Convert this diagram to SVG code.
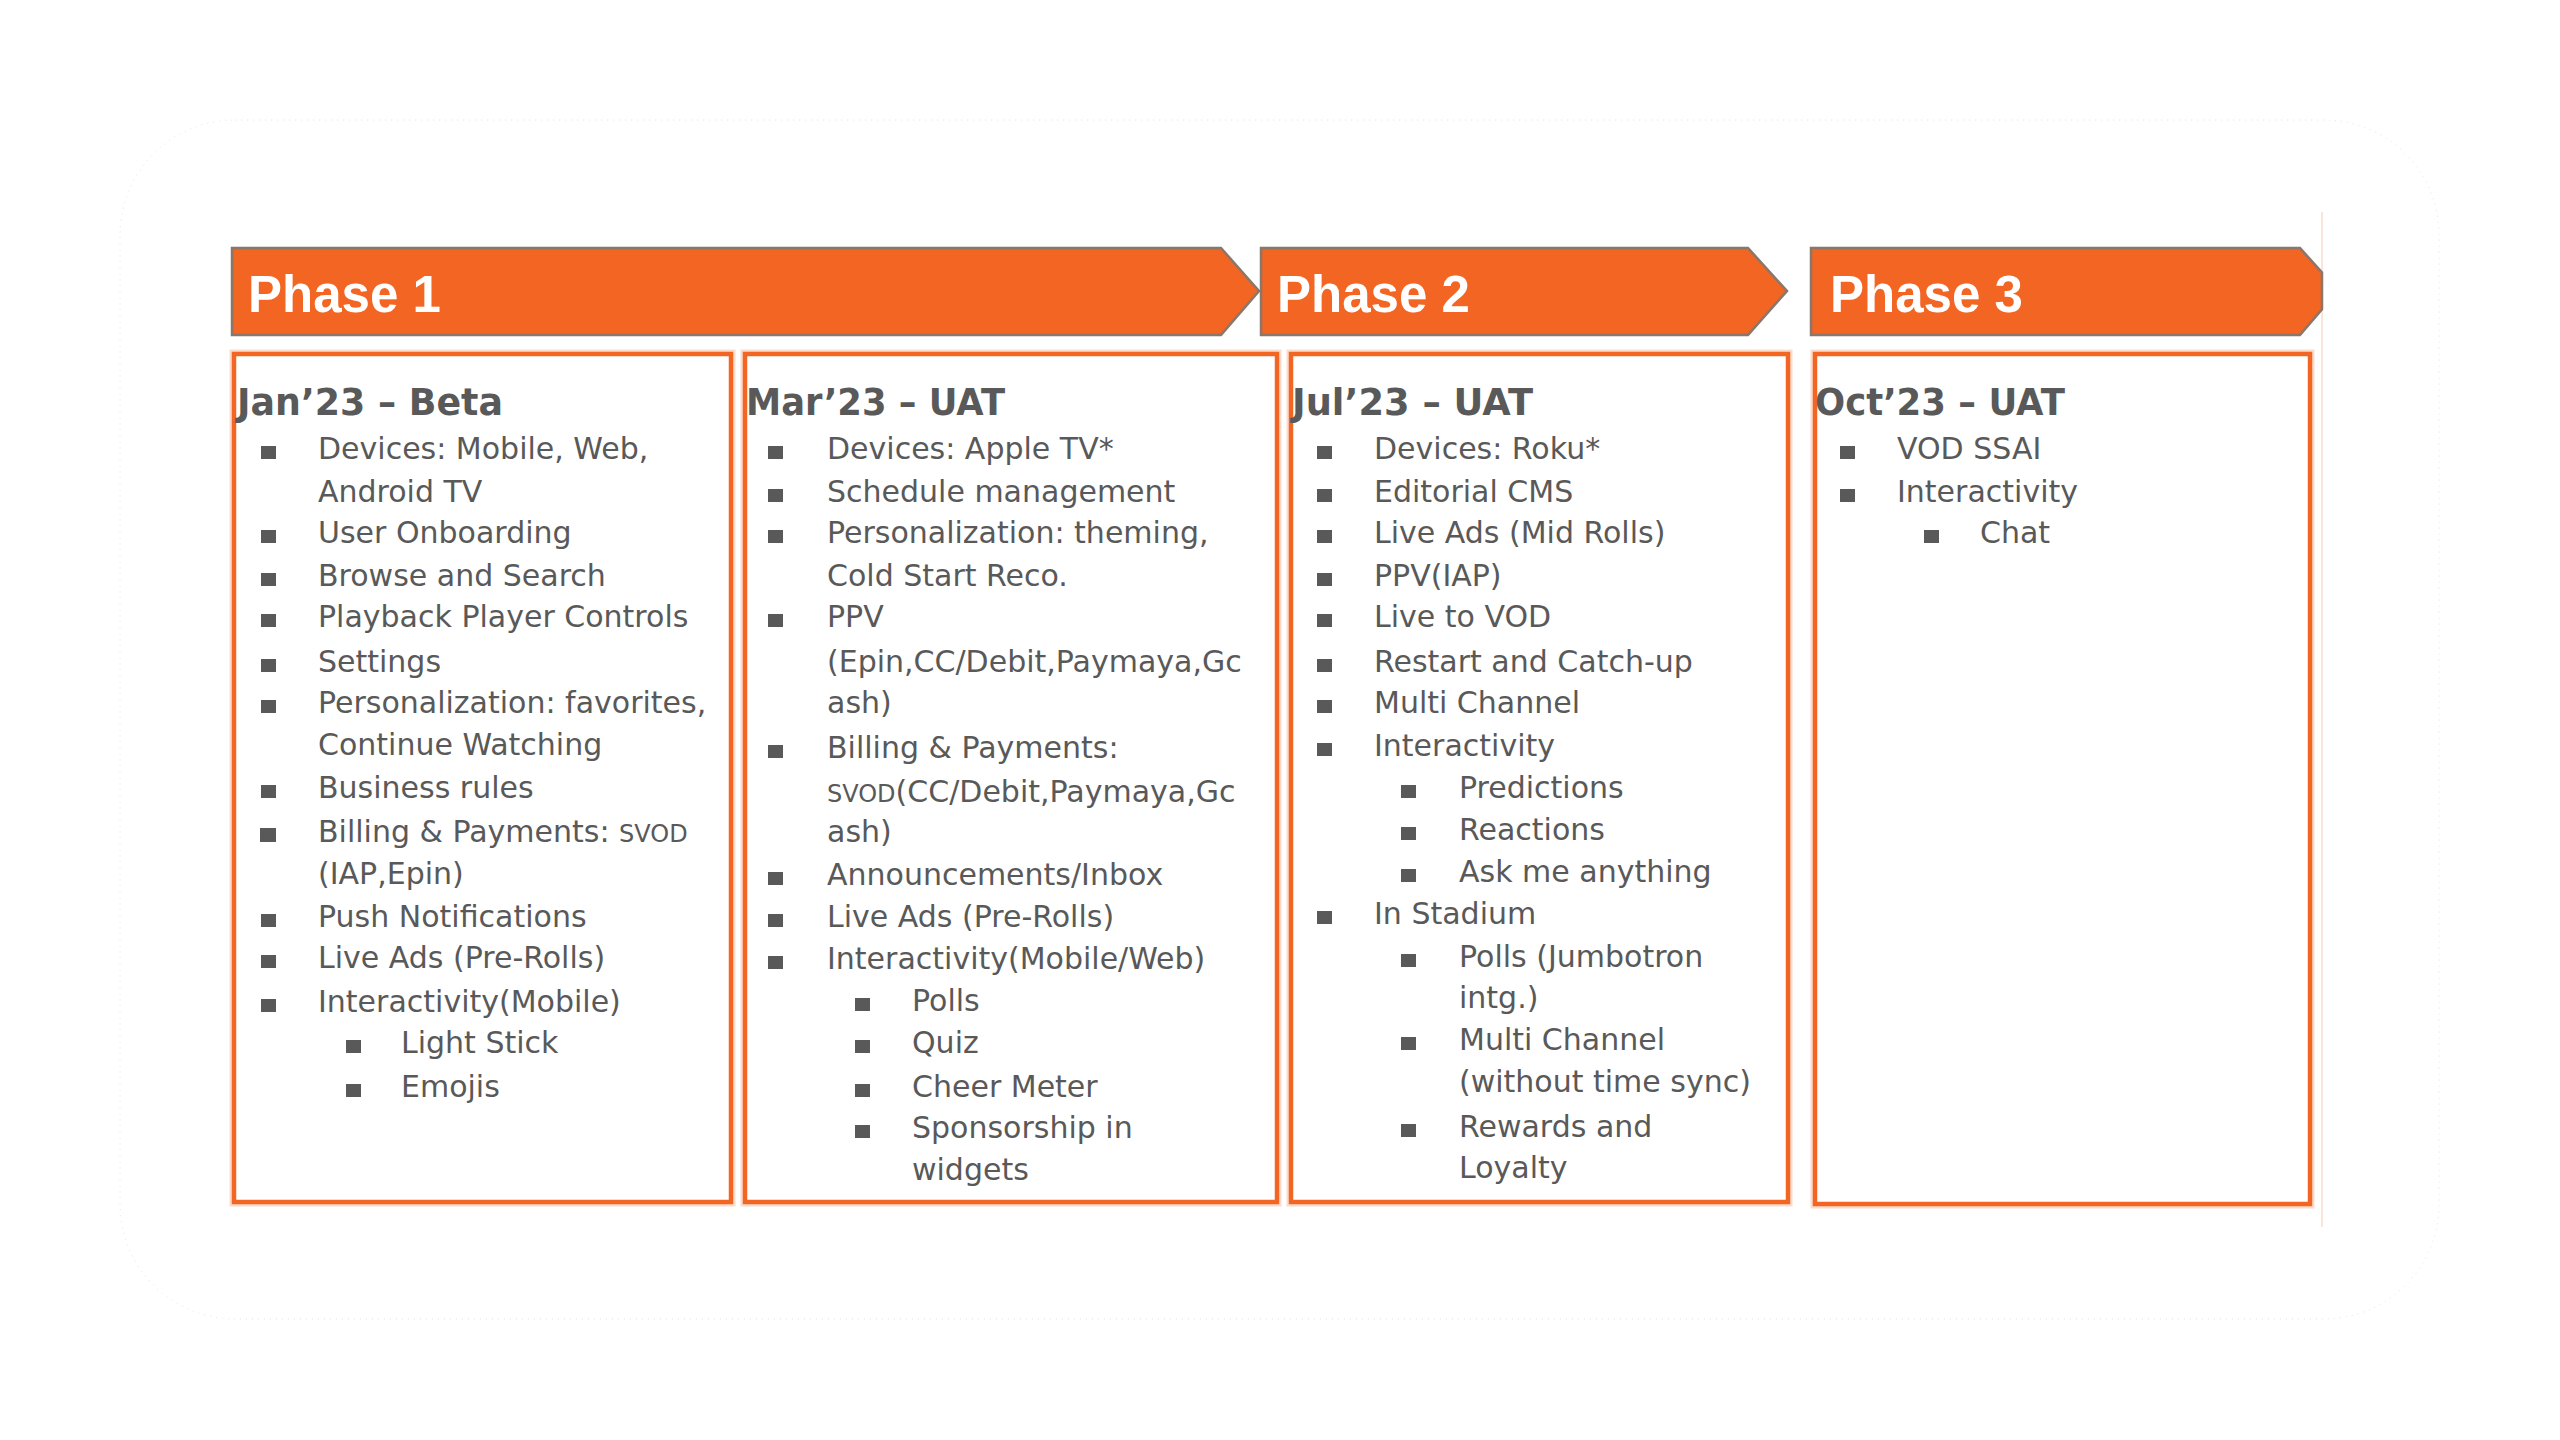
<svg xmlns="http://www.w3.org/2000/svg" width="2560" height="1440" viewBox="0 0 2560 1440">
<style>
.ph{font-family:"Liberation Sans",Arial,sans-serif;font-weight:bold;font-size:51px;fill:#ffffff}
.ban{fill:#F26522;stroke:#8a766a;stroke-width:2.5;stroke-linejoin:miter}
.box{fill:#ffffff;stroke:#F26522;stroke-width:4.5}
.halo{fill:none;stroke:#F9C4AA;stroke-width:9;opacity:0.6}
.h{font-family:"DejaVu Sans","Noto Sans",sans-serif;font-weight:bold;font-size:38px;fill:#595959}
.t{font-family:"DejaVu Sans","Noto Sans",sans-serif;font-size:30px;fill:#595959}
.sc{font-size:24px}
.b{fill:#595959}
</style>
<rect x="0" y="0" width="2560" height="1440" fill="#ffffff"/>
<rect x="120" y="120" width="2319" height="1199" rx="115" fill="none" stroke="#d6d6d6" stroke-width="1" stroke-dasharray="1 5" opacity="0.7"/>
<line x1="2322" y1="212" x2="2322" y2="1227" stroke="#f9dccf" stroke-width="1.5"/>

<g id="phase1">
<polygon class="ban" points="232,248 1221,248 1259,291 1221,335 232,335"/>
<text class="ph" x="248" y="312">Phase 1</text>
</g>
<g id="phase2">
<polygon class="ban" points="1261,248 1748,248 1787,291 1748,335 1261,335"/>
<text class="ph" x="1277" y="312">Phase 2</text>
</g>
<g id="phase3">
<polygon class="ban" points="1811,248 2300,248 2322,272.6 2322,309.4 2300,335 1811,335"/>
<text class="ph" x="1830" y="312">Phase 3</text>
</g>

<g id="connectors"></g>

<g id="jan23">
<rect class="halo" x="234" y="354" width="497" height="848"/>
<rect class="box" x="234" y="354" width="497" height="848"/>
<text class="h" x="237" y="415" textLength="266" lengthAdjust="spacingAndGlyphs">Jan’23 – Beta</text>
<rect class="b" x="261" y="446" width="15" height="13"/><text class="t" x="318" y="459">Devices: Mobile, Web,</text>
<text class="t" x="318" y="502">Android TV</text>
<rect class="b" x="261" y="530" width="15" height="13"/><text class="t" x="318" y="543">User Onboarding</text>
<rect class="b" x="261" y="573" width="15" height="13"/><text class="t" x="318" y="586">Browse and Search</text>
<rect class="b" x="261" y="614" width="15" height="13"/><text class="t" x="318" y="627">Playback Player Controls</text>
<rect class="b" x="261" y="659" width="15" height="13"/><text class="t" x="318" y="672">Settings</text>
<rect class="b" x="261" y="700" width="15" height="13"/><text class="t" x="318" y="713">Personalization: favorites,</text>
<text class="t" x="318" y="755">Continue Watching</text>
<rect class="b" x="261" y="785" width="15" height="13"/><text class="t" x="318" y="798">Business rules</text>
<rect class="b" x="260" y="828" width="16" height="14"/><text class="t" x="318" y="842">Billing &amp; Payments: <tspan class="sc">SVOD</tspan></text>
<text class="t" x="318" y="884">(IAP,Epin)</text>
<rect class="b" x="261" y="914" width="15" height="13"/><text class="t" x="318" y="927">Push Notifications</text>
<rect class="b" x="261" y="955" width="15" height="13"/><text class="t" x="318" y="968">Live Ads (Pre-Rolls)</text>
<rect class="b" x="261" y="999" width="15" height="13"/><text class="t" x="318" y="1012">Interactivity(Mobile)</text>
<rect class="b" x="346" y="1040" width="15" height="13"/><text class="t" x="401" y="1053">Light Stick</text>
<rect class="b" x="346" y="1084" width="15" height="13"/><text class="t" x="401" y="1097">Emojis</text>
</g>

<g id="mar23">
<rect class="halo" x="745" y="354" width="532" height="848"/>
<rect class="box" x="745" y="354" width="532" height="848"/>
<text class="h" x="746" y="415" textLength="259" lengthAdjust="spacingAndGlyphs">Mar’23 – UAT</text>
<rect class="b" x="768" y="446" width="15" height="13"/><text class="t" x="827" y="459">Devices: Apple TV*</text>
<rect class="b" x="768" y="489" width="15" height="13"/><text class="t" x="827" y="502">Schedule management</text>
<rect class="b" x="768" y="530" width="15" height="13"/><text class="t" x="827" y="543">Personalization: theming,</text>
<text class="t" x="827" y="586">Cold Start Reco.</text>
<rect class="b" x="768" y="614" width="15" height="13"/><text class="t" x="827" y="627">PPV</text>
<text class="t" x="827" y="672">(Epin,CC/Debit,Paymaya,Gc</text>
<text class="t" x="827" y="713">ash)</text>
<rect class="b" x="768" y="745" width="15" height="13"/><text class="t" x="827" y="758">Billing &amp; Payments:</text>
<text class="t" x="827" y="802"><tspan class="sc">SVOD</tspan>(CC/Debit,Paymaya,Gc</text>
<text class="t" x="827" y="842">ash)</text>
<rect class="b" x="768" y="872" width="15" height="13"/><text class="t" x="827" y="885">Announcements/Inbox</text>
<rect class="b" x="768" y="914" width="15" height="13"/><text class="t" x="827" y="927">Live Ads (Pre-Rolls)</text>
<rect class="b" x="768" y="956" width="15" height="13"/><text class="t" x="827" y="969">Interactivity(Mobile/Web)</text>
<rect class="b" x="855" y="998" width="15" height="13"/><text class="t" x="912" y="1011">Polls</text>
<rect class="b" x="855" y="1040" width="15" height="13"/><text class="t" x="912" y="1053">Quiz</text>
<rect class="b" x="855" y="1084" width="15" height="13"/><text class="t" x="912" y="1097">Cheer Meter</text>
<rect class="b" x="855" y="1125" width="15" height="13"/><text class="t" x="912" y="1138">Sponsorship in</text>
<text class="t" x="912" y="1180">widgets</text>
</g>

<g id="jul23">
<rect class="halo" x="1291" y="354" width="497" height="848"/>
<rect class="box" x="1291" y="354" width="497" height="848"/>
<text class="h" x="1292" y="415" textLength="241" lengthAdjust="spacingAndGlyphs">Jul’23 – UAT</text>
<rect class="b" x="1317" y="446" width="15" height="13"/><text class="t" x="1374" y="459">Devices: Roku*</text>
<rect class="b" x="1317" y="489" width="15" height="13"/><text class="t" x="1374" y="502">Editorial CMS</text>
<rect class="b" x="1317" y="530" width="15" height="13"/><text class="t" x="1374" y="543">Live Ads (Mid Rolls)</text>
<rect class="b" x="1317" y="573" width="15" height="13"/><text class="t" x="1374" y="586">PPV(IAP)</text>
<rect class="b" x="1317" y="614" width="15" height="13"/><text class="t" x="1374" y="627">Live to VOD</text>
<rect class="b" x="1317" y="659" width="15" height="13"/><text class="t" x="1374" y="672">Restart and Catch-up</text>
<rect class="b" x="1317" y="700" width="15" height="13"/><text class="t" x="1374" y="713">Multi Channel</text>
<rect class="b" x="1317" y="743" width="15" height="13"/><text class="t" x="1374" y="756">Interactivity</text>
<rect class="b" x="1401" y="785" width="15" height="13"/><text class="t" x="1459" y="798">Predictions</text>
<rect class="b" x="1401" y="827" width="15" height="13"/><text class="t" x="1459" y="840">Reactions</text>
<rect class="b" x="1401" y="869" width="15" height="13"/><text class="t" x="1459" y="882">Ask me anything</text>
<rect class="b" x="1317" y="911" width="15" height="13"/><text class="t" x="1374" y="924">In Stadium</text>
<rect class="b" x="1401" y="954" width="15" height="13"/><text class="t" x="1459" y="967">Polls (Jumbotron</text>
<text class="t" x="1459" y="1008">intg.)</text>
<rect class="b" x="1401" y="1037" width="15" height="13"/><text class="t" x="1459" y="1050">Multi Channel</text>
<text class="t" x="1459" y="1092">(without time sync)</text>
<rect class="b" x="1401" y="1124" width="15" height="13"/><text class="t" x="1459" y="1137">Rewards and</text>
<text class="t" x="1459" y="1178">Loyalty</text>
</g>

<g id="oct23">
<rect class="halo" x="1815" y="354" width="495" height="850"/>
<rect class="box" x="1815" y="354" width="495" height="850"/>
<text class="h" x="1815" y="415" textLength="250" lengthAdjust="spacingAndGlyphs">Oct’23 – UAT</text>
<rect class="b" x="1840" y="446" width="15" height="13"/><text class="t" x="1897" y="459">VOD SSAI</text>
<rect class="b" x="1840" y="489" width="15" height="13"/><text class="t" x="1897" y="502">Interactivity</text>
<rect class="b" x="1924" y="530" width="15" height="13"/><text class="t" x="1980" y="543">Chat</text>
</g>
</svg>
